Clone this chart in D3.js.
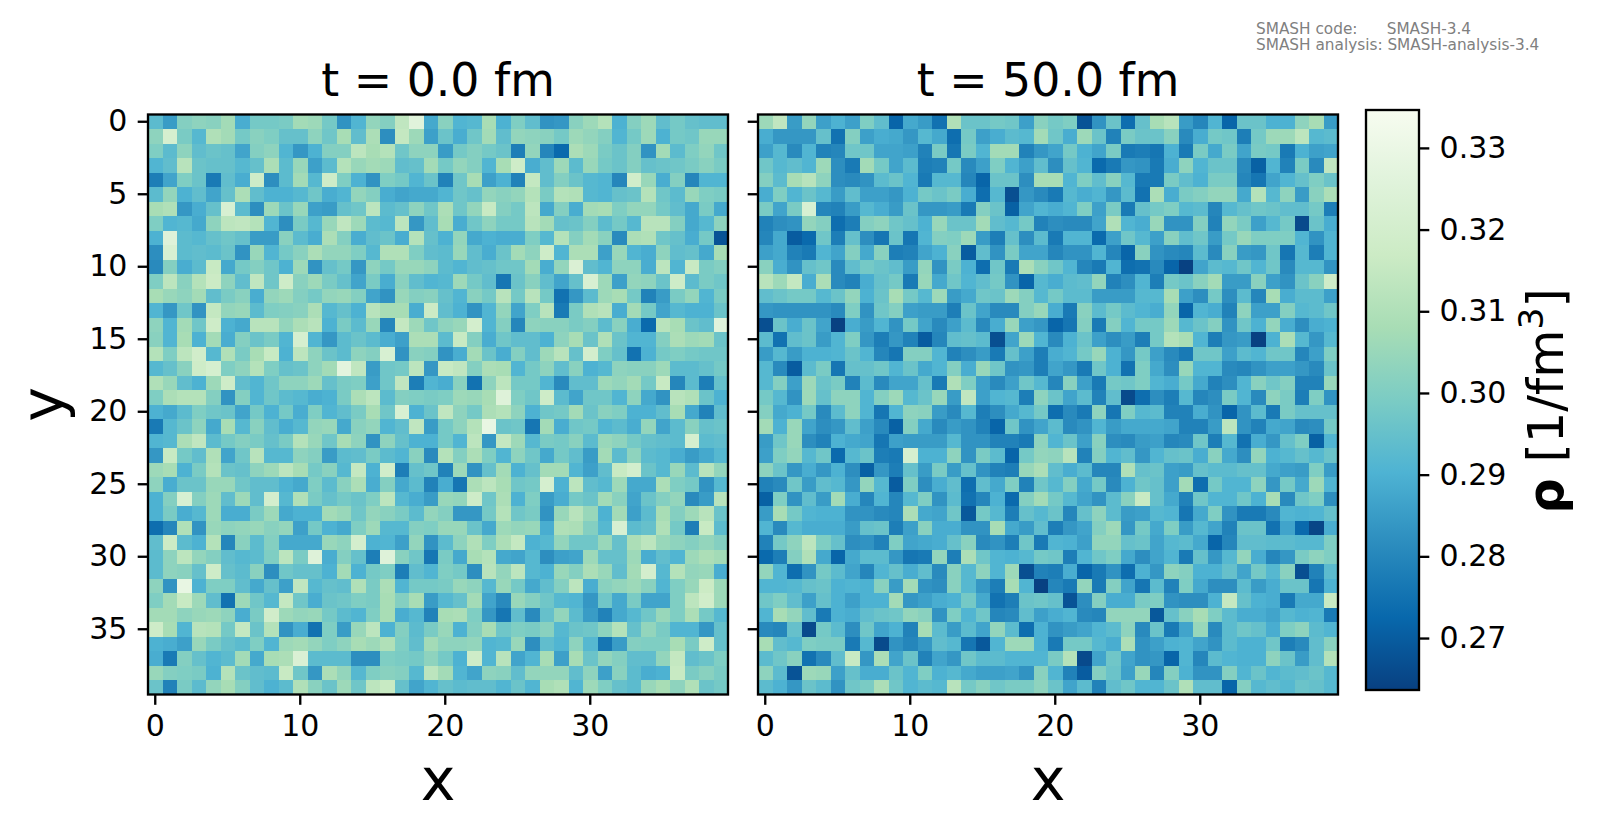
<!DOCTYPE html>
<html>
<head>
<meta charset="utf-8">
<script src="https://d3js.org/d3.v7.min.js"></script>
<style>
  html, body { margin: 0; background: #fff; }
  svg { display: block; font-family: "DejaVu Sans", sans-serif; }
  .axis path, .axis line { stroke: #000; stroke-width: 2.34; }
  .axis text { font-size: 30px; fill: #000; font-family: "DejaVu Sans", sans-serif; }
</style>
</head>
<body>
<div id="chart"></div>
<script>
// density per cell, in units of 0.001 1/fm^3 (rows = y, columns = x)
var densityT0 = [
[293,285,301,303,302,307,289,298,298,299,307,306,298,283,291,304,301,314,326,288,302,291,292,308,290,300,294,283,284,302,306,311,290,301,306,294,298,295,294,294],
[303,321,299,292,310,307,298,302,300,295,295,303,297,308,294,309,282,315,306,286,296,289,297,307,294,304,303,302,298,306,304,301,291,298,306,290,298,297,305,305],
[300,293,303,294,296,295,287,301,303,291,284,290,301,301,313,308,311,297,303,303,285,298,301,298,296,278,304,280,273,309,306,299,296,301,283,307,293,300,304,297],
[291,294,312,296,295,295,292,295,309,293,305,286,293,311,305,307,306,294,295,307,298,304,301,291,308,318,289,294,306,293,305,298,296,301,295,296,297,299,302,299],
[278,287,300,296,277,294,289,318,282,293,307,292,318,300,290,283,300,298,291,296,279,297,308,286,290,279,315,294,301,296,292,291,280,319,305,289,301,280,291,291],
[293,304,290,294,287,295,309,294,290,290,292,297,289,291,304,301,289,287,288,288,291,297,295,304,302,304,311,299,311,310,292,291,295,296,311,297,293,305,300,299],
[308,310,284,289,295,322,293,282,306,296,305,286,285,295,297,313,293,295,303,297,309,297,304,316,301,298,313,288,301,289,307,308,300,304,304,298,294,288,299,288],
[300,291,292,288,303,313,314,311,291,282,299,292,305,314,306,293,292,313,284,294,308,289,297,303,298,298,312,307,295,296,301,293,298,292,312,312,301,288,292,303],
[290,325,293,292,295,297,295,285,285,302,293,289,309,301,289,294,296,289,311,295,290,304,288,290,289,289,300,292,311,301,307,302,281,309,310,297,295,289,298,268],
[282,322,293,294,293,296,283,305,291,298,302,309,304,304,300,292,310,310,300,294,293,305,294,289,296,307,303,318,291,309,309,286,305,291,289,303,294,295,288,308],
[281,301,289,293,316,288,298,301,297,290,306,283,295,298,284,303,298,305,305,303,293,291,294,295,297,297,307,289,304,323,294,291,303,303,289,313,291,316,299,301],
[300,313,302,311,317,303,294,314,297,318,302,306,299,295,287,299,289,302,294,291,292,306,298,294,276,296,302,294,287,295,322,306,286,304,303,296,318,293,299,297],
[308,305,303,307,294,299,302,289,304,306,301,298,304,305,301,287,283,305,301,302,295,291,302,298,312,298,312,298,275,284,293,306,308,298,279,285,299,304,291,299],
[291,284,297,283,315,304,305,293,300,301,302,309,292,295,290,312,308,308,289,317,294,290,283,291,304,287,300,312,277,299,310,312,289,307,298,287,292,290,290,296],
[303,291,307,297,318,290,288,312,312,304,309,312,290,299,293,305,280,315,306,297,303,305,320,291,301,280,303,302,302,299,301,293,302,289,273,312,308,296,294,326],
[302,291,308,290,307,289,301,296,299,291,321,291,284,293,296,293,289,286,309,309,293,316,301,289,297,294,294,290,303,308,296,310,296,291,291,301,309,306,307,296],
[311,300,313,319,292,310,299,308,316,290,313,303,296,293,303,301,322,283,302,301,283,289,307,296,289,301,294,306,312,295,320,300,295,275,290,298,300,298,297,297],
[292,295,302,318,321,300,303,311,300,295,296,303,307,327,314,285,297,298,313,284,316,314,301,309,308,291,298,303,294,302,290,292,303,302,302,306,293,293,295,298],
[310,305,294,290,306,318,294,291,297,303,303,306,295,299,300,286,297,314,278,291,289,302,275,303,313,298,298,291,281,294,294,306,304,307,298,316,280,293,278,295],
[300,309,311,311,301,283,301,291,297,293,292,289,290,299,309,313,293,301,300,299,300,306,305,308,325,300,297,318,293,287,297,297,291,303,288,283,312,310,296,290],
[290,288,293,300,297,296,287,298,290,298,289,300,291,294,299,308,297,322,290,296,314,303,298,309,311,303,290,297,298,307,296,302,300,290,290,294,308,288,279,294],
[277,292,296,303,288,308,292,302,294,289,292,304,305,288,302,304,291,294,314,285,298,303,311,329,296,297,276,307,289,297,298,291,293,289,304,287,293,302,295,296],
[291,292,309,314,293,298,301,299,295,299,311,305,297,308,303,283,303,295,290,290,298,291,313,284,315,306,292,299,298,302,293,305,303,298,295,294,293,321,293,294],
[284,316,298,294,310,287,297,312,292,292,303,301,285,293,294,299,293,291,302,281,311,301,309,300,291,303,297,288,298,294,285,307,293,303,293,292,289,285,288,292],
[306,308,290,299,311,296,295,303,306,313,308,298,302,292,315,290,319,278,295,297,279,306,283,295,307,290,295,307,307,291,286,294,316,320,296,292,305,293,312,304],
[303,289,296,296,305,305,297,294,294,290,288,300,293,302,309,289,301,288,293,279,289,276,309,313,308,297,298,321,290,313,294,292,306,288,288,309,300,298,283,292],
[290,301,322,301,306,294,306,294,320,292,310,299,295,298,296,300,313,292,289,285,305,304,318,297,309,290,300,285,289,298,296,307,302,287,296,301,304,281,285,312],
[290,299,289,292,306,289,289,299,306,288,290,290,307,305,297,304,302,299,293,304,301,284,284,298,311,297,299,283,305,312,305,290,307,286,293,308,301,306,312,296],
[274,280,310,283,305,303,304,305,302,304,286,298,290,288,300,306,292,292,301,300,305,305,296,288,306,304,305,289,310,309,301,292,322,293,295,310,298,278,316,293],
[294,317,293,290,311,280,302,293,301,288,288,288,305,303,320,290,291,286,304,283,293,303,310,300,309,315,290,292,304,297,297,305,295,309,313,305,303,301,304,301],
[293,303,313,304,301,294,292,293,300,313,299,325,289,301,295,278,325,302,297,276,299,288,308,311,288,287,292,282,286,287,306,295,295,306,289,294,291,306,309,307],
[293,303,302,295,318,295,293,302,282,297,295,295,290,307,290,298,300,278,294,291,300,298,282,312,304,313,292,290,305,301,309,305,294,307,320,292,311,304,305,289],
[303,283,329,290,300,300,294,288,295,286,314,292,295,294,310,299,309,291,298,298,299,305,303,292,305,298,288,294,301,313,289,302,304,306,302,291,300,305,317,306],
[300,307,316,306,294,275,306,297,292,315,297,289,296,297,300,299,308,301,308,285,292,295,307,287,281,305,301,297,292,291,284,297,288,299,287,287,300,313,319,306],
[307,307,303,305,306,303,289,299,319,306,304,305,298,293,291,300,308,289,292,279,308,309,300,284,276,294,281,295,304,293,285,279,288,292,297,305,300,309,298,292],
[318,308,291,312,311,298,315,296,311,283,289,275,300,285,305,313,290,301,293,299,305,290,301,308,297,300,299,302,292,296,297,303,311,295,304,299,291,291,284,295],
[290,289,286,305,299,295,293,300,291,306,307,304,300,303,308,306,310,300,294,307,303,303,304,291,292,305,282,294,291,303,292,276,285,301,300,300,308,299,318,295],
[289,277,301,295,291,293,307,288,308,309,323,293,293,293,282,282,300,299,298,303,298,290,318,291,312,287,291,308,286,308,296,304,301,294,294,304,315,294,296,300],
[305,301,300,299,290,311,296,294,293,316,297,284,309,304,292,300,302,301,292,313,307,291,287,303,302,294,304,304,304,294,303,286,302,293,289,290,316,299,302,299],
[296,279,299,293,304,308,301,294,290,293,310,302,296,306,297,313,316,295,287,291,295,293,294,294,291,296,291,308,310,291,306,300,295,293,305,308,303,310,296,298]
];

var densityT50 = [
[306,314,285,304,286,290,286,300,294,272,288,285,275,310,296,296,298,297,286,302,298,300,268,283,296,274,295,308,312,285,280,291,272,296,296,290,290,303,308,285],
[289,284,284,284,295,275,301,286,289,288,284,292,288,274,298,286,289,293,292,307,297,289,306,296,279,299,296,296,302,281,289,298,297,278,298,306,306,313,292,293],
[286,292,281,291,279,280,297,297,287,287,286,279,299,276,299,291,307,307,279,284,287,298,290,287,299,277,278,276,290,277,299,288,299,287,299,298,277,290,286,287],
[297,292,294,291,306,282,277,307,298,287,293,278,279,298,281,286,300,291,286,294,282,295,291,273,277,284,283,277,289,303,291,296,296,281,271,291,279,299,281,314],
[301,293,308,312,303,282,281,283,293,296,291,277,292,292,280,272,296,296,282,308,308,291,300,294,302,292,277,277,299,294,290,299,299,280,276,287,291,295,300,296],
[289,300,291,296,292,285,294,286,286,284,290,298,296,299,289,274,292,267,284,281,277,292,289,291,284,293,275,309,289,299,301,304,304,288,311,292,303,285,302,309],
[299,287,299,322,280,279,285,292,289,285,296,284,284,285,277,301,296,271,287,291,289,291,300,286,299,277,295,298,300,292,293,280,292,295,297,296,294,294,298,278],
[279,282,283,304,301,274,278,301,303,297,295,290,305,296,296,307,294,292,298,279,282,281,281,287,310,291,289,305,283,283,301,279,304,299,286,292,298,266,296,289],
[280,288,270,273,297,278,295,282,276,296,276,291,301,300,306,285,278,295,282,293,277,291,291,273,286,297,292,286,302,294,297,285,298,305,300,300,300,291,283,291],
[286,288,279,277,291,287,301,288,302,278,279,287,290,302,270,294,283,299,287,287,280,283,283,291,280,272,302,283,281,280,293,281,302,285,284,297,276,292,278,291],
[302,289,283,295,297,281,294,298,296,294,285,304,283,299,290,274,297,277,309,302,297,291,280,277,291,274,275,281,272,264,287,293,292,297,291,297,281,292,292,283],
[312,306,315,289,309,281,279,289,295,298,277,305,288,297,291,294,298,283,272,292,289,293,294,304,279,282,291,278,298,296,302,307,285,285,302,286,283,296,302,318],
[294,296,298,298,292,296,304,290,296,308,298,292,306,285,288,297,296,306,301,292,298,293,293,285,285,285,292,292,308,286,282,298,282,293,280,308,289,293,293,286],
[284,283,283,283,283,281,300,283,297,301,286,285,285,278,296,287,281,281,301,305,289,277,302,293,298,293,291,289,304,272,291,289,279,303,286,286,301,292,293,297],
[267,296,289,296,287,264,289,285,291,283,298,287,281,286,293,281,289,305,286,284,272,276,301,277,301,291,298,298,306,292,296,301,283,297,290,304,289,282,289,290],
[293,275,294,296,285,291,300,284,278,284,279,270,280,294,295,293,267,287,306,291,281,290,296,286,282,285,278,298,311,308,291,278,284,285,264,290,309,292,284,292],
[285,292,285,290,290,291,296,291,280,276,301,301,291,279,282,285,277,295,286,278,289,291,298,305,290,284,298,286,281,277,297,297,286,293,291,297,297,280,286,300],
[292,281,270,293,299,276,295,295,297,291,296,288,291,301,289,305,297,283,284,278,287,284,277,297,290,275,300,288,282,305,291,291,281,280,283,286,286,284,281,296],
[292,301,286,306,296,299,279,293,281,287,287,295,277,310,300,286,281,286,297,292,280,302,286,277,298,297,300,291,289,298,288,279,282,291,302,297,301,279,279,305],
[298,292,283,306,295,303,303,291,301,306,292,296,305,285,314,286,291,292,278,303,296,287,293,279,294,266,274,282,278,292,280,282,299,291,281,303,299,278,300,283],
[301,288,290,298,281,293,303,291,276,291,303,302,285,281,292,278,282,288,292,298,274,281,277,303,276,300,292,293,279,279,289,283,272,283,293,277,299,295,295,295],
[307,290,305,287,282,284,294,286,281,271,301,288,281,285,283,279,272,297,283,287,293,281,283,291,285,288,288,288,287,279,279,285,313,283,279,288,287,281,282,298],
[285,297,305,282,279,290,288,287,276,286,285,285,285,292,283,283,279,279,277,303,291,296,286,302,282,281,285,286,280,281,297,278,292,275,289,284,295,300,271,291],
[286,300,304,292,297,273,292,296,278,277,321,290,290,303,283,299,293,272,298,304,303,312,279,301,291,294,284,291,295,296,289,302,288,282,304,290,292,295,292,296],
[303,296,284,289,284,290,282,271,284,278,295,285,299,285,295,283,279,278,305,309,294,289,293,280,280,310,295,296,286,285,295,293,293,295,295,288,286,285,300,285],
[279,281,297,285,294,292,284,304,292,270,300,282,289,294,274,294,288,300,279,297,292,301,288,298,281,290,297,295,286,307,274,298,291,291,303,284,298,288,306,291],
[271,300,283,294,285,307,289,280,291,280,292,300,283,293,275,280,290,273,301,307,298,292,287,283,293,302,316,295,288,279,297,291,291,297,290,308,281,297,300,282],
[285,308,298,291,290,290,283,283,281,280,309,288,287,297,269,298,292,278,295,292,296,280,295,303,293,285,286,292,291,276,288,300,283,277,277,281,291,290,291,295],
[291,281,292,289,289,289,285,295,296,278,286,302,289,289,283,283,308,288,285,294,278,284,287,301,306,284,298,288,300,285,292,287,279,296,296,275,287,273,265,289],
[279,298,303,313,300,295,282,283,279,300,287,288,289,295,302,281,283,278,297,277,291,290,286,304,304,295,296,287,292,293,288,272,280,294,294,293,293,292,292,300],
[273,278,301,310,288,272,288,293,293,284,276,277,304,278,309,297,291,290,292,298,297,278,291,297,300,288,282,287,291,277,295,284,292,304,289,280,284,299,303,300],
[304,291,274,283,298,293,287,280,291,295,289,294,281,302,292,303,291,306,267,279,278,289,272,277,283,274,290,284,303,301,290,290,295,287,298,292,302,267,279,293],
[291,291,292,295,296,290,291,290,302,285,307,283,282,302,292,284,278,308,291,264,280,277,304,277,301,287,276,293,279,300,288,282,282,293,285,289,296,296,276,290],
[297,300,294,286,295,290,286,290,290,307,284,286,289,290,298,288,275,278,296,297,295,268,282,301,289,289,299,300,283,282,282,290,315,295,290,289,277,288,288,316],
[291,308,304,294,277,290,289,294,296,297,304,302,283,300,291,297,280,281,294,286,289,291,281,280,304,304,304,269,295,302,308,300,293,289,289,287,292,290,291,277],
[281,280,295,266,298,293,282,297,287,290,279,308,293,285,293,287,304,293,274,290,283,285,287,291,293,303,281,296,277,287,305,281,293,297,295,289,300,303,293,291],
[308,294,292,300,299,299,277,292,266,283,280,284,294,292,276,269,291,306,306,290,277,298,298,292,289,309,283,286,290,291,287,283,293,290,290,297,278,281,294,302],
[293,297,302,275,281,294,316,284,309,287,296,279,287,284,297,293,293,291,291,291,299,311,266,287,297,287,283,284,272,291,280,293,291,290,290,303,296,285,294,311],
[303,293,268,306,305,286,295,289,289,296,291,300,290,292,288,286,286,287,283,302,291,279,270,301,296,286,305,280,301,290,283,283,301,291,296,291,293,294,296,292],
[293,290,284,296,293,283,297,299,309,297,291,293,292,312,298,302,297,299,299,303,296,287,293,279,294,297,291,291,296,310,294,294,272,301,292,294,292,296,295,292]
];

var cellIndex = d3.range(40);
var xTicks = [0, 10, 20, 30];
var yTicks = [0, 5, 10, 15, 20, 25, 30, 35];
var colorTicks = [0.27, 0.28, 0.29, 0.30, 0.31, 0.32, 0.33];
var colorRange = [0.2637, 0.3347];
// GnBu reversed
var gnbuR = ["#084081", "#0868ac", "#2b8cbe", "#4eb3d3", "#7bccc4", "#a8ddb5", "#ccebc5", "#e0f3db", "#f7fcf0"];
var panels = [
  {title: "t = 0.0 fm", data: densityT0, left: 148, showY: true},
  {title: "t = 50.0 fm", data: densityT50, left: 758, showY: false}
];

var size = 580, panelTop = 114.5;

var color = d3.scaleLinear()
  .domain(gnbuR.map(function(c, i) { return colorRange[0] + i * (colorRange[1] - colorRange[0]) / (gnbuR.length - 1); }))
  .range(gnbuR);

var svg = d3.select("#chart").append("svg")
  .attr("width", 1600)
  .attr("height", 834);

var x = d3.scaleBand().domain(cellIndex).range([0, size]);
var y = d3.scaleBand().domain(cellIndex).range([0, size]);

panels.forEach(function(p) {
  var g = svg.append("g").attr("transform", "translate(" + p.left + "," + panelTop + ")");

  p.data.forEach(function(row, j) {
    g.selectAll(null)
      .data(row)
      .enter().append("rect")
        .attr("x", function(d, i) { return x(i); })
        .attr("y", y(j))
        .attr("width", x.bandwidth())
        .attr("height", y.bandwidth())
        .attr("shape-rendering", "crispEdges")
        .attr("fill", function(d) { return color(d / 1000); });
  });

  g.append("rect")
    .attr("width", size)
    .attr("height", size)
    .attr("fill", "none")
    .attr("stroke", "#000")
    .attr("stroke-width", 2.34);

  g.append("g")
    .attr("class", "axis")
    .attr("transform", "translate(0," + size + ")")
    .call(d3.axisBottom(x).tickValues(xTicks).tickSize(10.3).tickPadding(10.3).offset(0))
    .select(".domain").remove();

  var yAxis = d3.axisLeft(y).tickValues(yTicks).tickSize(10.3).tickPadding(10.3).offset(0);
  if (!p.showY) yAxis.tickFormat("");
  g.append("g")
    .attr("class", "axis")
    .call(yAxis)
    .select(".domain").remove();

  g.append("text")
    .attr("x", size / 2)
    .attr("y", -19)
    .attr("text-anchor", "middle")
    .style("font-size", "45.8px")
    .text(p.title);

  g.append("text")
    .attr("x", size / 2)
    .attr("y", size + 105)
    .attr("text-anchor", "middle")
    .style("font-size", "58.6px")
    .text("x");

  if (p.showY) {
    g.append("text")
      .attr("transform", "translate(-85," + (size / 2) + ") rotate(-90)")
      .attr("text-anchor", "middle")
      .style("font-size", "58.6px")
      .text("y");
  }
});

// colour bar
var barLeft = 1366, barWidth = 53, barTop = 110, barBottom = 690;
var barScale = d3.scaleLinear().domain(colorRange).range([barBottom, barTop]);

var grad = svg.append("defs").append("linearGradient")
  .attr("id", "bar")
  .attr("x1", 0).attr("y1", 1).attr("x2", 0).attr("y2", 0);
gnbuR.forEach(function(c, i) {
  grad.append("stop")
    .attr("offset", i / (gnbuR.length - 1))
    .attr("stop-color", c);
});

svg.append("rect")
  .attr("x", barLeft)
  .attr("y", barTop)
  .attr("width", barWidth)
  .attr("height", barBottom - barTop)
  .attr("fill", "url(#bar)")
  .attr("stroke", "#000")
  .attr("stroke-width", 2.34);

svg.append("g")
  .attr("class", "axis")
  .attr("transform", "translate(" + (barLeft + barWidth) + ",0)")
  .call(d3.axisRight(barScale).tickValues(colorTicks).tickFormat(d3.format(".2f")).tickSize(10.3).tickPadding(10.3).offset(0))
  .select(".domain").remove();

var barLabel = svg.append("text")
  .attr("transform", "translate(1563,401) rotate(-90)")
  .attr("text-anchor", "middle")
  .style("font-size", "49.5px");
barLabel.append("tspan").style("font-weight", "bold").text("ρ");
barLabel.append("tspan").text(" [1/fm");
barLabel.append("tspan").attr("dy", -20).style("font-size", "34.5px").text("3");
barLabel.append("tspan").attr("dy", 20).text("]");

// version note
svg.append("text")
  .attr("x", 1256).attr("y", 33.5)
  .attr("fill", "#808080")
  .style("font-size", "15.3px")
  .style("white-space", "pre")
  .text("SMASH code:      SMASH-3.4");
svg.append("text")
  .attr("x", 1256).attr("y", 49.5)
  .attr("fill", "#808080")
  .style("font-size", "15.3px")
  .style("white-space", "pre")
  .text("SMASH analysis: SMASH-analysis-3.4");
</script>
</body>
</html>
